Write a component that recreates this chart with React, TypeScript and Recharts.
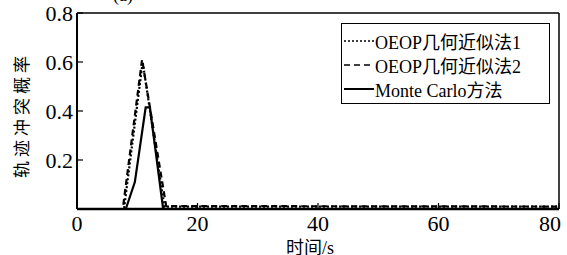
import { LineChart, Line, XAxis, YAxis } from 'recharts';

const xTicks = [0, 20, 40, 60, 80];
const yTicks = [0.2, 0.4, 0.6, 0.8];

// OEOP几何近似法1 (dotted)
const geo1Time = [0, 7.8, 10.9, 14.5, 80];
const geo1Prob = [0, 0, 0.6, 0.01, 0.01];

// OEOP几何近似法2 (dashed)
const geo2Time = [0, 7.6, 10.8, 14.8, 80];
const geo2Prob = [0, 0, 0.61, 0.012, 0.01];

// Monte Carlo方法 (solid)
const mcTime = [0, 8.1, 9.6, 11.4, 12.1, 14.3, 80];
const mcProb = [0, 0, 0.11, 0.415, 0.415, 0, 0];

const seriesNames = ['OEOP几何近似法1', 'OEOP几何近似法2', 'Monte Carlo方法'];
const dashes = ['2 2', '6 4', undefined];

const FONT = "'Liberation Serif', 'Times New Roman', 'DejaVu Serif', 'Noto Sans CJK SC', serif";

// merge knots into one table, gaps filled by connectNulls
const times = Array.from(new Set([...geo1Time, ...geo2Time, ...mcTime])).sort((a, b) => a - b);
const data = times.map((t) => {
  const row: any = { t };
  const i1 = geo1Time.indexOf(t);
  const i2 = geo2Time.indexOf(t);
  const i3 = mcTime.indexOf(t);
  if (i1 >= 0) row.geo1 = geo1Prob[i1];
  if (i2 >= 0) row.geo2 = geo2Prob[i2];
  if (i3 >= 0) row.mc = mcProb[i3];
  return row;
});

const renderXTick = (props: any) => {
  const { x, y, payload } = props;
  const last = x > 550;
  return (
    <g key={`xt-${payload.value}`}>
      <line x1={x} y1={y} x2={x} y2={y - 6} stroke="#000" strokeWidth={1.2} />
      <text
        x={last ? x + 2 : x}
        y={y + 14}
        textAnchor={last ? 'end' : 'middle'}
        dominantBaseline="central"
        fontFamily={FONT}
        fontSize={22}
        fill="#000"
      >
        {payload.value}
      </text>
    </g>
  );
};

const renderYTick = (props: any) => {
  const { x, y, payload } = props;
  return (
    <g key={`yt-${payload.value}`}>
      <line x1={x} y1={y} x2={x + 6} y2={y} stroke="#000" strokeWidth={1.2} />
      <text x={x - 4} y={y} textAnchor="end" dominantBaseline="central" fontFamily={FONT} fontSize={22} fill="#000">
        {payload.value}
      </text>
    </g>
  );
};

const LegendBox = () => (
  <div
    style={{
      position: 'absolute',
      left: 341,
      top: 23,
      border: '1.5px solid #000',
      background: '#fff',
      width: 209,
      height: 81,
      padding: '5px 0 0 2px',
      boxSizing: 'border-box',
      fontFamily: FONT,
      fontSize: 18,
      color: '#000',
    }}
  >
    {seriesNames.map((name, i) => (
      <div key={name} style={{ display: 'flex', alignItems: 'center', height: 24 }}>
        <svg width={30} height={10} style={{ marginRight: 1 }}>
          <line x1={0} y1={5} x2={30} y2={5} stroke="#000" strokeWidth={i === 2 ? 2 : 1.5} strokeDasharray={dashes[i]} />
        </svg>
        <span>{name}</span>
      </div>
    ))}
  </div>
);

export default function App() {
  return (
    <div style={{ position: 'absolute', left: 0, top: 0, width: 567, height: 255, background: '#fff', overflow: 'hidden', fontFamily: FONT }}>
      <div style={{ position: 'absolute', left: 113, top: -14, fontSize: 18, lineHeight: 1 }}>(a)</div>
      <LineChart width={567} height={255} data={data} margin={{ top: 12, right: 7, left: 17, bottom: 16 }}>
        <XAxis
          dataKey="t"
          type="number"
          domain={[0, 80]}
          ticks={xTicks}
          height={30}
          tickSize={0}
          tickMargin={0}
          tickLine={false}
          axisLine={{ stroke: '#000', strokeWidth: 2.5 }}
          tick={renderXTick}
          interval={0}
        />
        <XAxis xAxisId="top" orientation="top" type="number" dataKey="t" domain={[0, 80]} height={1} tick={false} tickLine={false} axisLine={{ stroke: '#000', strokeWidth: 1.5 }} />
        <YAxis
          type="number"
          domain={[0, 0.8]}
          ticks={yTicks}
          width={60}
          tickSize={0}
          tickMargin={0}
          tickLine={false}
          axisLine={{ stroke: '#000', strokeWidth: 2 }}
          tick={renderYTick}
          interval={0}
        />
        <YAxis yAxisId="right" orientation="right" type="number" domain={[0, 0.8]} width={1} tick={false} tickLine={false} axisLine={{ stroke: '#000', strokeWidth: 1.5 }} />
        <Line dataKey="geo1" name={seriesNames[0]} type="linear" stroke="#000" strokeWidth={2.2} strokeDasharray={dashes[0]} dot={false} connectNulls isAnimationActive={false} />
        <Line dataKey="geo2" name={seriesNames[1]} type="linear" stroke="#000" strokeWidth={2.2} strokeDasharray={dashes[1]} dot={false} connectNulls isAnimationActive={false} />
        <Line dataKey="mc" name={seriesNames[2]} type="linear" stroke="#000" strokeWidth={2.2} dot={false} connectNulls isAnimationActive={false} />
      </LineChart>
      <LegendBox />
      <div
        style={{
          position: 'absolute',
          left: 20,
          top: 115,
          transform: 'translate(-50%, -50%) rotate(-90deg)',
          whiteSpace: 'nowrap',
          fontSize: 17,
          letterSpacing: 4,
        }}
      >
        轨迹冲突概率
      </div>
      <div
        style={{
          position: 'absolute',
          left: 310,
          top: 246,
          transform: 'translate(-50%, -50%)',
          whiteSpace: 'nowrap',
          fontSize: 18,
        }}
      >
        时间/s
      </div>
    </div>
  );
}
